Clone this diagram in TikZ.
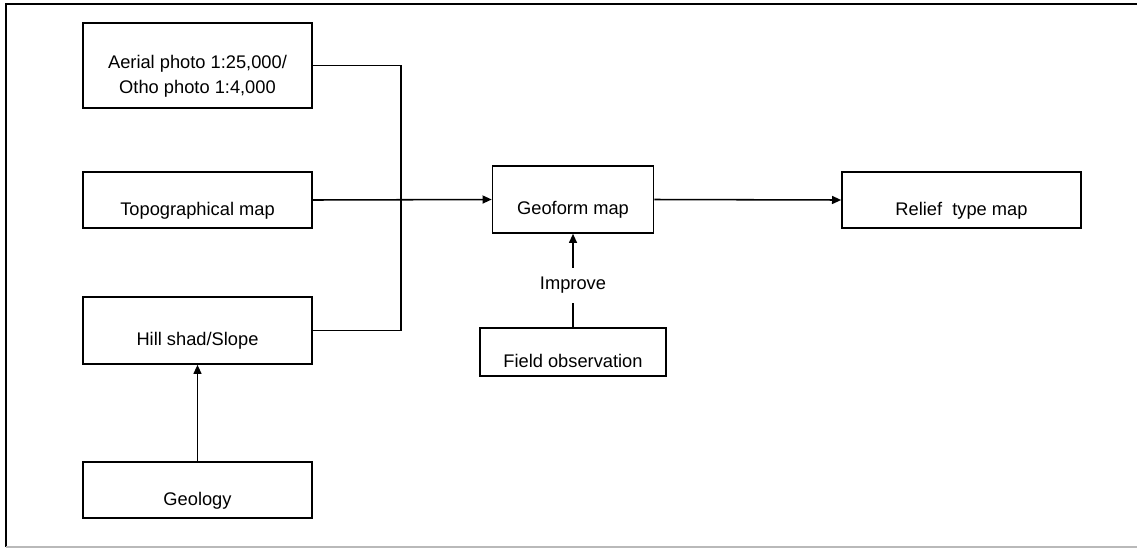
\documentclass[tikz,border=0pt]{standalone}
\usepackage{fontspec}
\setmainfont{Liberation Sans}
\usetikzlibrary{arrows.meta}

\begin{document}
\begin{tikzpicture}[x=0.025cm, y=-0.025cm, >={Triangle[length=2.3mm,width=2mm]}, line width=1.1pt,
    box/.style={draw, inner sep=0pt, text height=21.4pt, text depth=0pt, font=\fontsize{13}{17.8}\selectfont},
    srcbox/.style={box, minimum width=5.725cm},
    note/.style={fill=white, inner xsep=2pt, inner ysep=6.5pt, font=\fontsize{13}{15}\selectfont}]
  \useasboundingbox (0,0) rectangle (1137,548);

  % frame
  \draw[line width=1.8pt] (1137,4) -- (6,4) -- (6,547);
  \draw[gray!55, line width=1.2pt] (6,547) -- (1137,547);

  % input column
  \node[srcbox, minimum height=2.125cm, text height=40.4pt, text depth=0pt, align=center] (aerial) at (197.5,65.5) {Aerial photo 1:25,000/\\Otho photo 1:4,000};
  \node[srcbox, minimum height=1.4cm]   (topo)   at (197.5,200)   {Topographical map};
  \node[srcbox, minimum height=1.675cm] (hill)   at (197.5,330.5) {Hill shad/Slope};
  \node[srcbox, minimum height=1.4cm]   (geol)   at (197.5,490)   {Geology};

  % outputs
  \node[box, minimum width=4.025cm, minimum height=1.675cm] (geoform) at (573,199.5) {Geoform map};
  \node[box, minimum width=4.65cm, minimum height=1.2cm]    (field)   at (573,352)   {Field observation};
  \node[box, minimum width=5.975cm, minimum height=1.4cm]   (relief)  at (961.5,200) {Relief\ \ type map};

  \coordinate (bus) at (401,200);

  \draw (aerial.east) -| (bus) |- (hill.east);
  \draw[->] (topo.east) -- (geoform.west);
  \draw[->] (geoform.east) -- (relief.west);
  \draw[->] (geol.north) -- (hill.south);
  \draw[->] (field.north) -- node[note, pos=0.45] (improve) {Improve} (geoform.south);
\end{tikzpicture}
\end{document}
